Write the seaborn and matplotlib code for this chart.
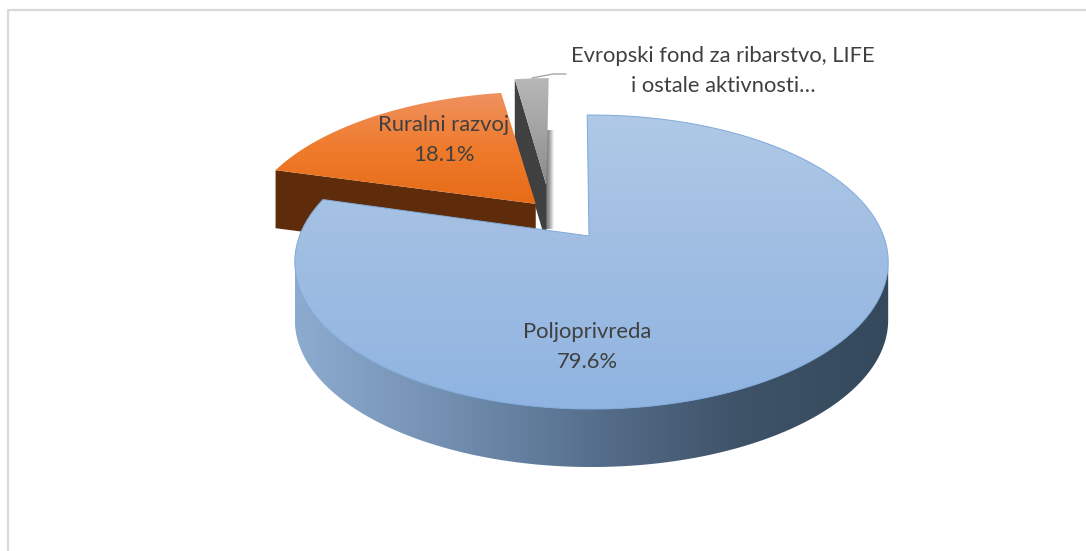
import matplotlib.pyplot as plt
import numpy as np
import seaborn as sns
from matplotlib.patches import Polygon

sns.set_theme(style="white")
plt.rcParams["font.family"] = ["Lato", "DejaVu Sans"]

# udio po kategoriji, redoslijed kao na slici (u smjeru kazaljke)
CATEGORIES = [
    "Poljoprivreda",
    "Ruralni razvoj",
    "Evropski fond za ribarstvo, LIFE\ni ostale aktivnosti…",
]
SHARES = [79.6, 18.1, 2.3]

# izgled: pseudo 3D pita u pikselima slike
APEX = (591.5, 236)
SCALE_X, SCALE_Y, PERSPECTIVE = 292, 142.4, 0.177
DEPTH = 58
START_ANGLE = -1.0
EXPLODE = [(0.0, 0.0), (-0.215, 0.235), (-0.165, 0.38)]
TIP_SHIFT = [-2.5, 4.5, 0.0]
TEXT_COLOR = "#404040"


def project(theta_deg, radius=1.0, offset=(0.0, 0.0)):
    """Tacka na disku (ugao od vrha, u smjeru kazaljke) -> piksel slike."""
    theta = np.radians(theta_deg)
    x = radius * np.sin(theta) + offset[0]
    y = radius * np.cos(theta) + offset[1]
    w = 1 + PERSPECTIVE * y
    return np.column_stack((APEX[0] + SCALE_X * x / w, APEX[1] - SCALE_Y * y / w))


def tip(i):
    return project(0, 0, EXPLODE[i]) + np.array([TIP_SHIFT[i], 0])


def fill_gradient(ax, points, colors, horizontal=False, zorder=1):
    cmap = sns.blend_palette(colors, as_cmap=True)
    ramp = np.linspace(0, 1, 256)
    ramp = ramp[None, :] if horizontal else ramp[:, None]
    x0, y0 = points.min(axis=0)
    x1, y1 = points.max(axis=0)
    im = ax.imshow(
        ramp, cmap=cmap, extent=(x0, x1, y1, y0), aspect="auto",
        interpolation="bilinear", zorder=zorder,
    )
    clip = Polygon(points, closed=True, transform=ax.transData)
    im.set_clip_path(clip)


fig = plt.figure(figsize=(10.86, 5.51), dpi=100)
ax = fig.add_axes([0, 0, 1, 1])

edges = START_ANGLE + np.cumsum([0] + SHARES) * 3.6
down = np.array([0, DEPTH])

# okvir grafikona
ax.plot([8, 8, 1086], [551, 10, 10], color="#d9d9d9", lw=1.6, zorder=0)

# Evropski fond: sjena, tamni bocni zid pa gornja strana
start, end = edges[2], edges[3]
apex = tip(2)
rim = project(np.linspace(start, end, 20), 1, EXPLODE[2])
shadow = np.array([[apex[0, 0], 130], [apex[0, 0] + 8, 130],
                   [apex[0, 0] + 8, apex[0, 1] + 44], [apex[0, 0], apex[0, 1] + 44]])
fill_gradient(ax, shadow, ["#6e6e6e", "#a8a8a8", "#ffffff"], horizontal=True, zorder=1)
wall = np.vstack((rim[0], apex, apex + down, rim[0] + down))
ax.add_patch(Polygon(wall, closed=True, fc="#404040", ec="none", zorder=2))
fill_gradient(ax, np.vstack((apex, rim)), ["#b8b8b8", "#a3a3a3", "#8c8c8c"], zorder=3)

# Ruralni razvoj
start, end = edges[1], edges[2]
apex = tip(1)
rim = project(np.linspace(start, end, 60), 1, EXPLODE[1])
wall = np.vstack((rim[0], apex, apex + down, rim[0] + down))
ax.add_patch(Polygon(wall, closed=True, fc="#5e2c0a", ec="none", zorder=4))
fill_gradient(ax, np.vstack((apex, rim)), ["#ef9160", "#ef7b2c", "#e66c17"], zorder=5)

# Poljoprivreda
start, end = edges[0], edges[1]
apex = tip(0)
rim = project(np.linspace(start, end, 300), 1, EXPLODE[0])
front = project(np.linspace(100, 260, 200), 1, EXPLODE[0])
side = np.vstack((front, (front + down)[::-1]))
fill_gradient(
    ax, side, ["#8dabcf", "#7390b2", "#566f8d", "#3f5368", "#35495c"],
    horizontal=True, zorder=6,
)
top = np.vstack((apex, rim))
fill_gradient(ax, top, ["#afc9e7", "#9fbde2", "#8fb4e1"], zorder=7)
ax.add_patch(Polygon(top, closed=True, fc="none", ec="#7fa9da", lw=0.7, zorder=8))

# linija do oznake malog isjecka
ax.plot([532, 553, 566], [78, 74, 74], color="#a6a6a6", lw=1, zorder=9)

# oznake
label_xy = [(587, 347), (444, 140), (723, 71)]
for name, share, (x, y) in zip(CATEGORIES, SHARES, label_xy):
    text = name if "\n" in name else f"{name}\n{share:.1f}%"
    ax.text(
        x, y, text, ha="center", va="center", fontsize=15.8,
        color=TEXT_COLOR, linespacing=1.6, zorder=10,
    )

ax.set_xlim(0, 1086)
ax.set_ylim(551, 0)
ax.axis("off")
fig.savefig("out.png", dpi=100, facecolor="white")
